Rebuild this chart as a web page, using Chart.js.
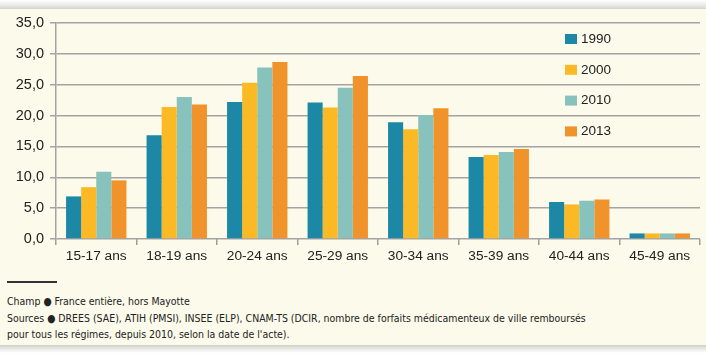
<!DOCTYPE html>
<html lang="fr">
<head>
<meta charset="UTF-8">
<title>Forfaits médicamenteux par âge</title>
<script src="https://cdn.jsdelivr.net/npm/chart.js"></script>
<style>
  html, body { margin: 0; padding: 0; }
  body { width: 706px; height: 353px; position: relative; overflow: hidden; background: #fbfaeb; }
  .ombreHaut { position: absolute; left: 0; top: 0; width: 706px; height: 9px;
    background: linear-gradient(#ffffff, #e4e4e0 70%, #d2d2ce); }
  .ombreBas { position: absolute; left: 0; top: 345px; width: 706px; height: 8px;
    background: linear-gradient(#cfcfcb, #eeeeea 60%, #ffffff); }
  #zone { position: absolute; left: 0; top: 0; width: 706px; height: 275px; }
  .trait { position: absolute; left: 7px; top: 281px; width: 50px; height: 1.5px; background: #333; }
  .notes { position: absolute; left: 7px; top: 294px; font-family: "Liberation Sans Narrow", "DejaVu Sans Condensed", sans-serif;
    font-size: 11px; line-height: 16.5px; color: #222; white-space: nowrap;
    transform: scaleX(0.95); transform-origin: left top; }
</style>
</head>
<body>
<div class="ombreHaut"></div>
<div id="zone"><canvas id="grafico"></canvas></div>
<div class="trait"></div>
<div class="notes">
  Champ ● France entière, hors Mayotte<br>
  Sources ● DREES (SAE), ATIH (PMSI), INSEE (ELP), CNAM-TS (DCIR, nombre de forfaits médicamenteux de ville remboursés<br>
  pour tous les régimes, depuis 2010, selon la date de l'acte).
</div>
<div class="ombreBas"></div>

<script>
// tranches d'age
const categorias = ['15-17 ans', '18-19 ans', '20-24 ans', '25-29 ans', '30-34 ans', '35-39 ans', '40-44 ans', '45-49 ans'];
const anos = ['1990', '2000', '2010', '2013'];

const valores1990 = [6.9, 16.8, 22.2, 22.1, 18.9, 13.3, 6.0, 0.9];
const valores2000 = [8.4, 21.4, 25.3, 21.3, 17.8, 13.6, 5.6, 0.9];
const valores2010 = [10.9, 23.0, 27.8, 24.5, 20.1, 14.1, 6.2, 0.9];
const valores2013 = [9.5, 21.8, 28.7, 26.4, 21.2, 14.6, 6.4, 0.9];

const cores = ['#1d88a6', '#fbb926', '#88c2bd', '#f0932b'];

const eixoY = { min: 0, max: 35, passo: 5 };

const series = [valores1990, valores2000, valores2010, valores2013];

// legenda dentro do grafico, a direita
const legendaPlugin = {
  id: 'legendaDentro',
  afterDraw(chart) {
    const ctx = chart.ctx;
    const area = chart.chartArea;
    ctx.save();
    ctx.font = '13.5px "Liberation Sans", Arial, sans-serif';
    ctx.textBaseline = 'middle';
    chart.data.datasets.forEach(function (ds, i) {
      const cy = area.top + 16 + i * 30.8;
      ctx.fillStyle = ds.backgroundColor;
      ctx.fillRect(area.left + 509, cy - 5, 12, 10);
      ctx.fillStyle = '#222';
      ctx.fillText(ds.label, area.left + 525, cy);
    });
    ctx.restore();
  }
};

const config = {
  type: 'bar',
  data: {
    labels: categorias,
    datasets: anos.map(function (a, i) {
      return {
        label: a,
        data: series[i],
        backgroundColor: cores[i],
        borderWidth: 0,
        categoryPercentage: 0.75,
        barPercentage: 1.0
      };
    })
  },
  options: {
    responsive: false,
    animation: false,
    layout: { padding: { top: 23, right: 6, left: 0, bottom: 0 } },
    plugins: { legend: { display: false }, tooltip: { enabled: false } },
    scales: {
      x: {
        grid: { display: true, offset: true, drawOnChartArea: false, color: '#9d9d9d', lineWidth: 1.5, tickLength: 6 },
        border: { display: false },
        ticks: { color: '#222', font: { family: '"Liberation Sans", Arial, sans-serif', size: 13.7 }, padding: 3, maxRotation: 0 },
        afterFit(scale) { scale.height = 36; }
      },
      y: {
        min: eixoY.min,
        max: eixoY.max,
        grid: { color: '#a3a3a3', lineWidth: 1.5, tickLength: 6 },
        border: { color: '#a3a3a3', width: 1.5 },
        ticks: {
          stepSize: eixoY.passo,
          color: '#222',
          padding: 6,
          font: { family: '"Liberation Sans", Arial, sans-serif', size: 14.5 },
          callback: function (v) { return v.toFixed(1).replace('.', ','); }
        },
        afterFit(scale) { scale.width = 56; }
      }
    }
  },
  plugins: [legendaPlugin]
};

const canvas = document.getElementById('grafico');
canvas.width = 706;
canvas.height = 275;
const grafico = new Chart(canvas, config);
</script>
</body>
</html>
